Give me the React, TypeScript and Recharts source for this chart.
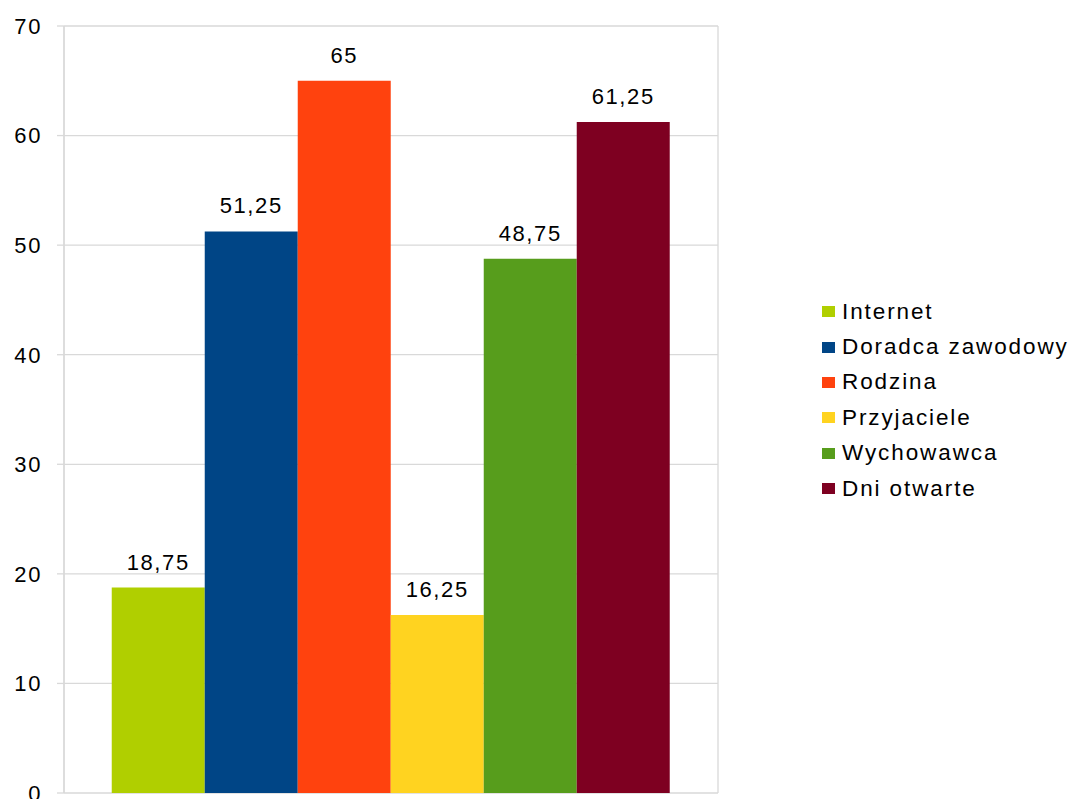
import React from "react";
import { BarChart, Bar, XAxis, YAxis, CartesianGrid, Legend, LabelList } from "recharts";

const categories = ["Źródło informacji"];
const seriesNames = ["Internet", "Doradca zawodowy", "Rodzina", "Przyjaciele", "Wychowawca", "Dni otwarte"];
const seriesValues = [18.75, 51.25, 65, 16.25, 48.75, 61.25];
const seriesColors = ["#b0cf00", "#004586", "#ff420e", "#ffd320", "#579d1c", "#7e0021"];
const yTicks = [0, 10, 20, 30, 40, 50, 60, 70];

const data = categories.map((c) => {
  const row: Record<string, any> = { name: c };
  seriesNames.forEach((s, i) => {
    row[s] = seriesValues[i];
  });
  return row;
});

const FONT = "'Liberation Sans', Arial, sans-serif";
const fmt = (v: any) => String(v).replace(".", ",");

const LegendContent = (props: any) => {
  const payload = [...(props.payload || [])].sort(
    (a: any, b: any) => seriesNames.indexOf(a.value) - seriesNames.indexOf(b.value)
  );
  return (
    <div style={{ fontFamily: FONT, fontSize: 22.5, color: "#000", letterSpacing: 1.9 }}>
      {payload.map((p: any) => (
        <div key={p.value} style={{ display: "flex", alignItems: "center", height: 35.4 }}>
          <span style={{ display: "inline-block", width: 13, height: 11, background: p.color, marginRight: 7 }} />
          <span>{p.value}</span>
        </div>
      ))}
    </div>
  );
};

export default function App() {
  return (
    <div style={{ position: "absolute", left: 0, top: 0, width: 1071, height: 799, background: "#fff" }}>
      <BarChart
        width={1071}
        height={799}
        data={data}
        margin={{ top: 26, right: 104, bottom: 6, left: 0 }}
        barCategoryGap="7.3%"
        barGap={0}
      >
        <CartesianGrid
          stroke="#d9d9d9"
          strokeWidth={1.3}
          vertical={true}
          verticalCoordinatesGenerator={({ offset }: any) => [offset.left, offset.left + offset.width]}
        />
        <XAxis dataKey="name" tick={false} tickLine={false} axisLine={{ stroke: "#d9d9d9", strokeWidth: 1.3 }} height={0} />
        <YAxis
          width={64}
          domain={[0, 70]}
          ticks={yTicks}
          interval={0}
          tickSize={7}
          tickMargin={15}
          tickLine={{ stroke: "#d9d9d9", strokeWidth: 1.3 }}
          axisLine={{ stroke: "#d9d9d9", strokeWidth: 1.3 }}
          tick={{ fill: "#000", fontSize: 22, fontFamily: FONT, letterSpacing: 1.6 }}
        />
        <Legend
          layout="vertical"
          align="right"
          verticalAlign="top"
          content={<LegendContent />}
          wrapperStyle={{ left: 822, top: 294, width: 249 }}
        />
        {seriesNames.map((s, i) => (
          <Bar key={s} dataKey={s} fill={seriesColors[i]} isAnimationActive={false}>
            <LabelList
              dataKey={s}
              position="top"
              offset={18}
              formatter={fmt}
              style={{ fill: "#000", fontSize: 22, fontFamily: FONT, letterSpacing: 1.6 }}
            />
          </Bar>
        ))}
      </BarChart>
    </div>
  );
}
